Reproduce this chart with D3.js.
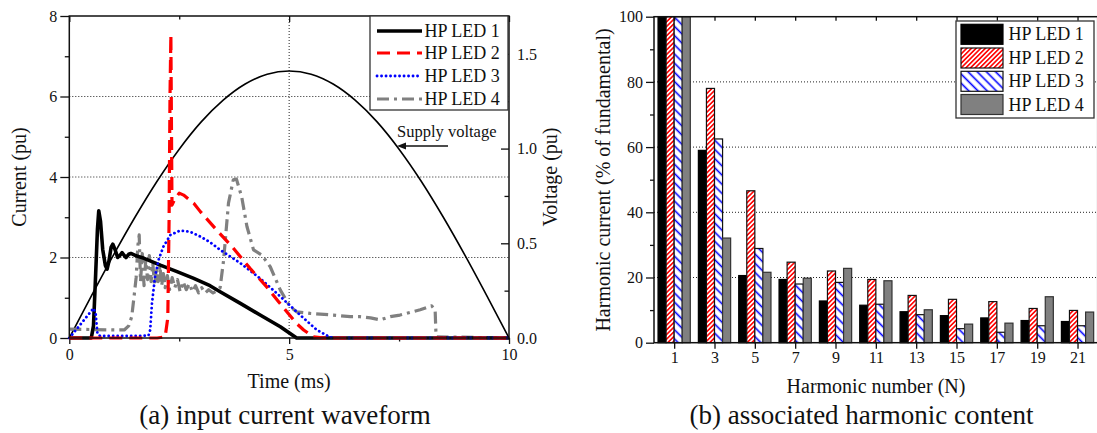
<!DOCTYPE html>
<html><head><meta charset="utf-8">
<script src="https://cdn.jsdelivr.net/npm/d3@7"></script>
<style>
body{margin:0;background:#fff;}
svg{display:block;font-family:"Liberation Serif","Times New Roman",serif;}
</style></head><body>
<svg id="c" width="1097" height="433"></svg>
<script>
// ---------- (a) input current waveform ----------
const seriesNames = ["HP LED 1", "HP LED 2", "HP LED 3", "HP LED 4"];

// supply voltage (pu), sampled every 0.5 ms
const voltT = [0,0.5,1,1.5,2,2.5,3,3.5,4,4.5,5,5.5,6,6.5,7,7.5,8,8.5,9,9.5,10];
const voltV = [0,0.221,0.436,0.640,0.829,0.997,1.141,1.256,1.341,1.393,1.410,1.393,1.341,1.256,1.141,0.997,0.829,0.640,0.436,0.221,0];

// input currents (pu) as [time ms, current]
const led1 = [[0,0],[0.5,0],[0.55,0.3],[0.6,1.6],[0.64,2.7],[0.67,3.16],[0.71,2.9],[0.76,2.2],[0.82,1.8],[0.86,1.71],
  [0.9,1.9],[0.95,2.25],[0.99,2.33],[1.04,2.2],[1.1,2.0],[1.15,2.05],[1.2,2.12],[1.25,2.05],[1.29,2.0],[1.35,2.08],
  [1.4,2.1],[1.5,2.05],[1.7,1.98],[2.07,1.81],[2.45,1.65],[2.83,1.48],[3.2,1.3],[3.43,1.15],[3.89,0.86],[4.34,0.57],
  [4.8,0.28],[5.17,0],[10,0]];
const led2 = [[0,0],[2.0,0],[2.18,0.03],[2.24,0.5],[2.27,3],[2.29,6],[2.31,7.53],[2.325,5],[2.335,3.3],[2.4,3.45],
  [2.5,3.6],[2.6,3.55],[2.83,3.35],[2.98,3.14],[3.32,2.72],[3.7,2.27],[4.11,1.73],[4.49,1.27],[4.76,0.9],[4.98,0.61],
  [5.17,0.36],[5.33,0.2],[5.55,0.03],[5.8,0],[10,0]];
const led3 = [[0,0],[0.3,0.4],[0.55,0.74],[0.6,0.6],[0.64,0.1],[0.7,0.05],[1.0,0.05],[1.5,0.05],[1.8,0.06],[1.84,0.2],
  [1.88,0.86],[1.95,1.52],[2.03,1.94],[2.14,2.27],[2.3,2.56],[2.52,2.67],[2.75,2.64],[2.98,2.52],[3.2,2.38],[3.43,2.19],
  [3.89,1.86],[4.34,1.48],[4.8,1.03],[5.25,0.57],[5.63,0.2],[5.93,0.02],[6.1,0],[10,0]];
const led4 = [[0,0.22],[0.5,0.21],[1.0,0.2],[1.25,0.2],[1.35,0.3],[1.42,0.53],[1.48,1.1],[1.52,1.5],[1.56,2.3],[1.59,2.56],
  [1.62,1.4],[1.66,2.1],[1.7,1.3],[1.74,1.95],[1.78,1.45],[1.82,2.05],[1.86,1.4],[1.9,1.85],[1.94,1.3],[1.98,1.75],
  [2.02,1.4],[2.06,1.8],[2.1,1.3],[2.14,1.6],[2.18,1.25],[2.23,1.55],[2.28,1.2],[2.34,1.5],[2.4,1.25],[2.46,1.45],
  [2.52,1.15],[2.59,1.4],[2.66,1.2],[2.73,1.35],[2.8,1.15],[2.87,1.3],[2.94,1.12],[3.01,1.25],[3.09,1.12],[3.17,1.2],
  [3.27,1.12],[3.37,1.18],[3.43,1.25],[3.51,1.94],[3.62,3.35],[3.73,3.93],[3.8,3.95],[3.92,3.51],[4.04,2.77],[4.19,2.19],
  [4.38,2.06],[4.57,1.77],[4.8,1.19],[5.02,0.78],[5.17,0.65],[5.48,0.61],[6.0,0.57],[6.39,0.53],[6.61,0.53],[6.85,0.5],
  [7.07,0.45],[7.3,0.53],[7.52,0.57],[7.98,0.7],[8.24,0.8],[8.32,0.7],[8.34,0.07],[8.36,0.03],[10,0]];

const currentTicks = [0,2,4,6,8];
const currentMinor = [1,3,5,7];
const timeTicks = [0,5,10];
const timeMinor = [2.5,7.5];
const voltTicks = [0,0.5,1.0,1.5];
const voltMinor = [0.25,0.75,1.25];

// ---------- (b) associated harmonic content ----------
const harmonics = [1,3,5,7,9,11,13,15,17,19,21];
const hpLed1 = [100,59,20.6,19.4,12.8,11.5,9.5,8.3,7.6,6.8,6.5];
const hpLed2 = [100,78,46.6,24.7,22.0,19.4,14.5,13.3,12.6,10.5,9.9];
const hpLed3 = [100,62.5,28.9,18.0,18.5,11.8,8.6,4.3,3.2,5.2,5.2];
const hpLed4 = [100,32.1,21.6,19.8,22.8,19.0,10.1,5.7,6.0,14.1,9.4];
const pctTicks = [0,20,40,60,80,100];
const pctMinor = [10,30,50,70,90];

const svg = d3.select("#c");
const font = '"Liberation Serif","Times New Roman",serif';
const ink = "#111";

// hatch patterns
const defs = svg.append("defs");
function hatch(id, color, spacing, angle, width) {
  const p = defs.append("pattern").attr("id", id).attr("patternUnits", "userSpaceOnUse")
    .attr("width", spacing).attr("height", spacing)
    .attr("patternTransform", `rotate(${angle})`);
  p.append("rect").attr("width", spacing).attr("height", spacing).attr("fill", "#fff");
  p.append("line").attr("x1", spacing/2).attr("y1", 0).attr("x2", spacing/2).attr("y2", spacing)
    .attr("stroke", color).attr("stroke-width", width);
}
hatch("hRed", "#ff0000", 3.3, 45, 1.6);
hatch("hBlue", "#0000ff", 6.5, -45, 1.6);

// ================= panel (a) =================
const tx = d3.scaleLinear().domain([0,10]).range([69.3,509]);
const iy = d3.scaleLinear().domain([0,8]).range([338,16]);
const vy = d3.scaleLinear().domain([0,1.7]).range([338,16]);

const gA = svg.append("g");

// grid
gA.append("g").selectAll("line").data([2,4,6]).join("line")
  .attr("x1", tx(0)).attr("x2", tx(10)).attr("y1", d => iy(d)).attr("y2", d => iy(d))
  .attr("stroke", "#222").attr("stroke-width", 1).attr("stroke-dasharray", "1,2");
gA.append("line").attr("x1", tx(5)).attr("x2", tx(5)).attr("y1", iy(0)).attr("y2", iy(8))
  .attr("stroke", "#222").attr("stroke-width", 1).attr("stroke-dasharray", "1,2");

function styleAxis(g, size) {
  g.select(".domain").remove();
  g.selectAll(".tick line").attr("stroke", ink).attr("stroke-width", 1.3);
  g.selectAll(".tick text").attr("font-family", font).attr("font-size", size).attr("fill", ink);
}

// left axis
gA.append("g").attr("transform", `translate(${tx(0)},0)`)
  .call(d3.axisLeft(iy).tickValues(currentTicks).tickSize(9).tickPadding(3).tickFormat(d3.format("d")))
  .call(g => styleAxis(g, 16));
gA.append("g").attr("transform", `translate(${tx(0)},0)`)
  .call(d3.axisLeft(iy).tickValues(currentMinor).tickSize(4.5).tickFormat(""))
  .call(g => styleAxis(g, 16));
// bottom axis
gA.append("g").attr("transform", `translate(0,${iy(0)})`)
  .call(d3.axisBottom(tx).tickValues(timeTicks).tickSize(6).tickPadding(5).tickFormat(d3.format("d")))
  .call(g => styleAxis(g, 16));
gA.append("g").attr("transform", `translate(0,${iy(0)})`)
  .call(d3.axisBottom(tx).tickValues(timeMinor).tickSize(3.5).tickFormat(""))
  .call(g => styleAxis(g, 16));
// top axis (inward ticks)
gA.append("g").attr("transform", `translate(0,${iy(8)})`)
  .call(d3.axisBottom(tx).tickValues(timeTicks).tickSize(6).tickFormat(""))
  .call(g => styleAxis(g, 16));
gA.append("g").attr("transform", `translate(0,${iy(8)})`)
  .call(d3.axisBottom(tx).tickValues(timeMinor).tickSize(3.5).tickFormat(""))
  .call(g => styleAxis(g, 16));
// right voltage axis (inward ticks, labels outside)
const vAxis = gA.append("g").attr("transform", `translate(${tx(10)},0)`)
  .call(d3.axisLeft(vy).tickValues(voltTicks).tickSize(8).tickFormat(d3.format(".1f")))
  .call(g => styleAxis(g, 16));
vAxis.selectAll(".tick text").attr("x", 8).attr("text-anchor", "start");
gA.append("g").attr("transform", `translate(${tx(10)},0)`)
  .call(d3.axisLeft(vy).tickValues(voltMinor).tickSize(4.5).tickFormat(""))
  .call(g => styleAxis(g, 16));

// curves
const lineI = d3.line().x(d => tx(d[0])).y(d => iy(d[1]));
const lineV = d3.line().x((d,i) => tx(voltT[i])).y(d => vy(d)).curve(d3.curveMonotoneX);

gA.append("path").datum(voltV).attr("d", lineV).attr("fill", "none").attr("stroke", "#000").attr("stroke-width", 1.6);

const styles = [
  {data: led4, color: "#808080", width: 3.2, dash: "12,5,3,5", cap: "butt"},
  {data: led1, color: "#000000", width: 3.6, dash: null, cap: "butt"},
  {data: led3, color: "#0000ff", width: 2.8, dash: "0.1,4.4", cap: "round"},
  {data: led2, color: "#ff0000", width: 3.2, dash: "13,7", cap: "butt"}
];
styles.forEach(s => {
  gA.append("path").datum(s.data).attr("d", lineI).attr("fill", "none")
    .attr("stroke", s.color).attr("stroke-width", s.width)
    .attr("stroke-dasharray", s.dash).attr("stroke-linecap", s.cap).attr("stroke-linejoin", "round");
});

// frame
gA.append("rect").attr("x", tx(0)).attr("y", iy(8)).attr("width", tx(10)-tx(0)).attr("height", iy(0)-iy(8))
  .attr("fill", "none").attr("stroke", ink).attr("stroke-width", 1.5);

// annotation
gA.append("text").attr("x", 397).attr("y", 137).attr("font-family", font).attr("font-size", 16.5).attr("fill", ink)
  .text("Supply voltage");
gA.append("line").attr("x1", 448).attr("y1", 146).attr("x2", 404).attr("y2", 146).attr("stroke", ink).attr("stroke-width", 1.5);
gA.append("path").attr("d", "M397,146 L406,142.5 L406,149.5 Z").attr("fill", ink);

// legend (a)
const legA = gA.append("g");
legA.append("rect").attr("x", 370).attr("y", 16).attr("width", 138).attr("height", 94)
  .attr("fill", "#fff").attr("stroke", "#333").attr("stroke-width", 1.3);
const legStyles = [styles[1], styles[3], styles[2], styles[0]];
const legY = [31, 53, 76, 99];
seriesNames.forEach((name, i) => {
  const s = legStyles[i];
  legA.append("line").attr("x1", 377).attr("x2", 422).attr("y1", legY[i]).attr("y2", legY[i])
    .attr("stroke", s.color).attr("stroke-width", s.width).attr("stroke-dasharray", s.dash).attr("stroke-linecap", s.cap);
  legA.append("text").attr("x", 424.5).attr("y", legY[i] + 6).attr("font-family", font).attr("font-size", 18).attr("fill", ink).text(name);
});

// axis titles (a)
gA.append("text").attr("transform", `translate(26,177) rotate(-90)`).attr("text-anchor", "middle")
  .attr("font-family", font).attr("font-size", 20).attr("fill", ink).text("Current (pu)");
gA.append("text").attr("transform", `translate(557,177) rotate(-90)`).attr("text-anchor", "middle")
  .attr("font-family", font).attr("font-size", 20).attr("fill", ink).text("Voltage (pu)");
gA.append("text").attr("x", tx(5)).attr("y", 388).attr("text-anchor", "middle")
  .attr("font-family", font).attr("font-size", 20).attr("fill", ink).text("Time (ms)");
gA.append("text").attr("x", 285).attr("y", 424).attr("text-anchor", "middle")
  .attr("font-family", font).attr("font-size", 27).attr("fill", ink).text("(a) input current waveform");

// ================= panel (b) =================
const hx = d3.scaleLinear().domain([0,22]).range([654,1097.7]);
const hy = d3.scaleLinear().domain([0,100]).range([342.7,16.7]);
const gB = svg.append("g");

gB.append("g").selectAll("line").data([20,40,60,80]).join("line")
  .attr("x1", hx(0)).attr("x2", hx(22)).attr("y1", d => hy(d)).attr("y2", d => hy(d))
  .attr("stroke", "#222").attr("stroke-width", 1).attr("stroke-dasharray", "1,2");

const barW = 0.4;
const barSeries = [
  {vals: hpLed1, fill: "#000", stroke: "#000", off: -2},
  {vals: hpLed2, fill: "url(#hRed)", stroke: "#111", off: -1},
  {vals: hpLed3, fill: "url(#hBlue)", stroke: "#111", off: 0},
  {vals: hpLed4, fill: "#808080", stroke: "#333", off: 1}
];
barSeries.forEach(s => {
  gB.append("g").selectAll("rect").data(harmonics).join("rect")
    .attr("x", (h) => hx(h + s.off*barW))
    .attr("width", hx(barW) - hx(0))
    .attr("y", (h, i) => hy(s.vals[i]))
    .attr("height", (h, i) => hy(0) - hy(s.vals[i]))
    .attr("fill", s.fill).attr("stroke", s.stroke).attr("stroke-width", 1.2);
});

// axes (b)
gB.append("g").attr("transform", `translate(${hx(0)},0)`)
  .call(d3.axisLeft(hy).tickValues(pctTicks).tickSize(8).tickPadding(3).tickFormat(d3.format("d")))
  .call(g => styleAxis(g, 16));
gB.append("g").attr("transform", `translate(${hx(0)},0)`)
  .call(d3.axisLeft(hy).tickValues(pctMinor).tickSize(4).tickFormat(""))
  .call(g => styleAxis(g, 16));
gB.append("g").attr("transform", `translate(0,${hy(0)})`)
  .call(d3.axisBottom(hx).tickValues(harmonics).tickSize(6).tickPadding(3).tickFormat(d3.format("d")))
  .call(g => styleAxis(g, 16));
gB.append("g").attr("transform", `translate(0,${hy(100)})`)
  .call(d3.axisBottom(hx).tickValues(harmonics).tickSize(4).tickFormat(""))
  .call(g => styleAxis(g, 16));
gB.append("rect").attr("x", hx(0)).attr("y", hy(100)).attr("width", hx(22)-hx(0)).attr("height", hy(0)-hy(100))
  .attr("fill", "none").attr("stroke", ink).attr("stroke-width", 1.5);

// legend (b)
const legB = gB.append("g");
legB.append("rect").attr("x", 956).attr("y", 21).attr("width", 138).attr("height", 97)
  .attr("fill", "#fff").attr("stroke", "#333").attr("stroke-width", 1.3);
const swY = [24.3, 48, 71.3, 94.5];
barSeries.forEach((s, i) => {
  legB.append("rect").attr("x", 961).attr("y", swY[i]).attr("width", 42).attr("height", 20)
    .attr("fill", s.fill).attr("stroke", s.stroke).attr("stroke-width", 1.2);
  legB.append("text").attr("x", 1008.5).attr("y", swY[i] + 16).attr("font-family", font).attr("font-size", 18)
    .attr("fill", ink).text(seriesNames[i]);
});

gB.append("text").attr("transform", `translate(610,180) rotate(-90)`).attr("text-anchor", "middle")
  .attr("font-family", font).attr("font-size", 20).attr("fill", ink).text("Harmonic current (% of fundamental)");
gB.append("text").attr("x", 876).attr("y", 393).attr("text-anchor", "middle")
  .attr("font-family", font).attr("font-size", 20).attr("fill", ink).text("Harmonic number (N)");
gB.append("text").attr("x", 861.5).attr("y", 424).attr("text-anchor", "middle")
  .attr("font-family", font).attr("font-size", 27).attr("fill", ink).text("(b) associated harmonic content");
</script>
</body></html>
